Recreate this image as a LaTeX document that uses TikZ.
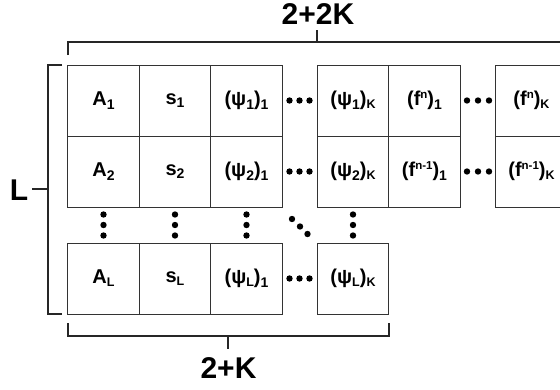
\documentclass[tikz,border=0pt]{standalone}
\usepackage{fontspec}
\setmainfont{Liberation Sans}
\usepackage{tikz}
\usetikzlibrary{positioning}

\tikzset{
  cell/.style={draw=black!80, line width=0.8pt, minimum width=71.5pt, minimum height=71pt,
    inner sep=0pt, font=\fontsize{20}{22}\selectfont\bfseries},
  brace/.style={draw=black!85, line width=1.3pt},
  dimlabel/.style={inner sep=0pt, font=\fontsize{30}{32}\selectfont\bfseries}
}
\newcommand{\sbs}[1]{\raisebox{-3.7pt}{\fontsize{14}{14}\selectfont #1}}
\newcommand{\sbk}[1]{\raisebox{-3pt}{\fontsize{12.5}{13}\selectfont #1}}
\newcommand{\sps}[1]{\raisebox{7pt}{\fontsize{11.5}{12}\selectfont #1}}

\begin{document}
\begin{tikzpicture}[x=1pt,y=-1pt]
\useasboundingbox (0,0) rectangle (560,389);
\clip (0,0) rectangle (560,389);
% first row
\node [cell] (A1) at (103.5,100.5) {A\sbs{1}};
\node [cell] (s1) at (175,100.5) {s\sbs{1}};
\node [cell] (psi11) at (246.5,100.5) {(ψ\sbs{1})\sbs{1}};
\node [cell] (psi1K) at (353,100.5) {(ψ\sbs{1})\sbk{K}};
\node [cell] (fn1) at (424.5,100.5) {(f\sps{n})\sbs{1}};
\node [cell] (fnK) at (531.5,100.5) {(f\sps{n})\sbk{K}};
% second row
\node [cell] (A2) at (103.5,171.5) {A\sbs{2}};
\node [cell] (s2) at (175,171.5) {s\sbs{2}};
\node [cell] (psi21) at (246.5,171.5) {(ψ\sbs{2})\sbs{1}};
\node [cell] (psi2K) at (353,171.5) {(ψ\sbs{2})\sbk{K}};
\node [cell] (fm1) at (424.5,171.5) {(f\sps{n-1})\sbs{1}};
\node [cell] (fmK) at (531.5,171.5) {(f\sps{n-1})\sbk{K}};
% last row
\node [cell] (AL) at (103.5,278.5) {A\sbk{L}};
\node [cell] (sL) at (175,278.5) {s\sbk{L}};
\node [cell] (psiL1) at (246.5,278.5) {(ψ\sbk{L})\sbs{1}};
\node [cell] (psiLK) at (353,278.5) {(ψ\sbk{L})\sbk{K}};
% dots
\foreach \x in {289.5,299.5,309.5}
  \foreach \y in {100.5,171.5,278.5}
    \fill (\x,\y) circle (3.2);
\foreach \x in {467,478,489}
  \foreach \y in {100.5,171.5}
    \fill (\x,\y) circle (3.2);
\foreach \x in {103.5,175,246.5,353}
  \foreach \y in {214.5,225,235.5}
    \fill (\x,\y) circle (3.2);
\fill (292,219) circle (3.2);
\fill (300,226.5) circle (3.2);
\fill (307.5,234) circle (3.2);
% brackets
\draw [brace] (68,55) -- (68,42) -- (580,42);
\draw [brace] (317,42) -- (317,30);
\node [dimlabel] (top) at (318,14) {2+2K};
\draw [brace] (62,65) -- (48,65) -- (48,314) -- (62,314);
\draw [brace] (48,189) -- (32,189);
\node [dimlabel] (left) at (19,190) {L};
\draw [brace] (68,323) -- (68,336) -- (389,336) -- (389,323);
\draw [brace] (228,336) -- (228,349);
\node [dimlabel] (bottom) at (228.5,368) {2+K};
\end{tikzpicture}
\end{document}
